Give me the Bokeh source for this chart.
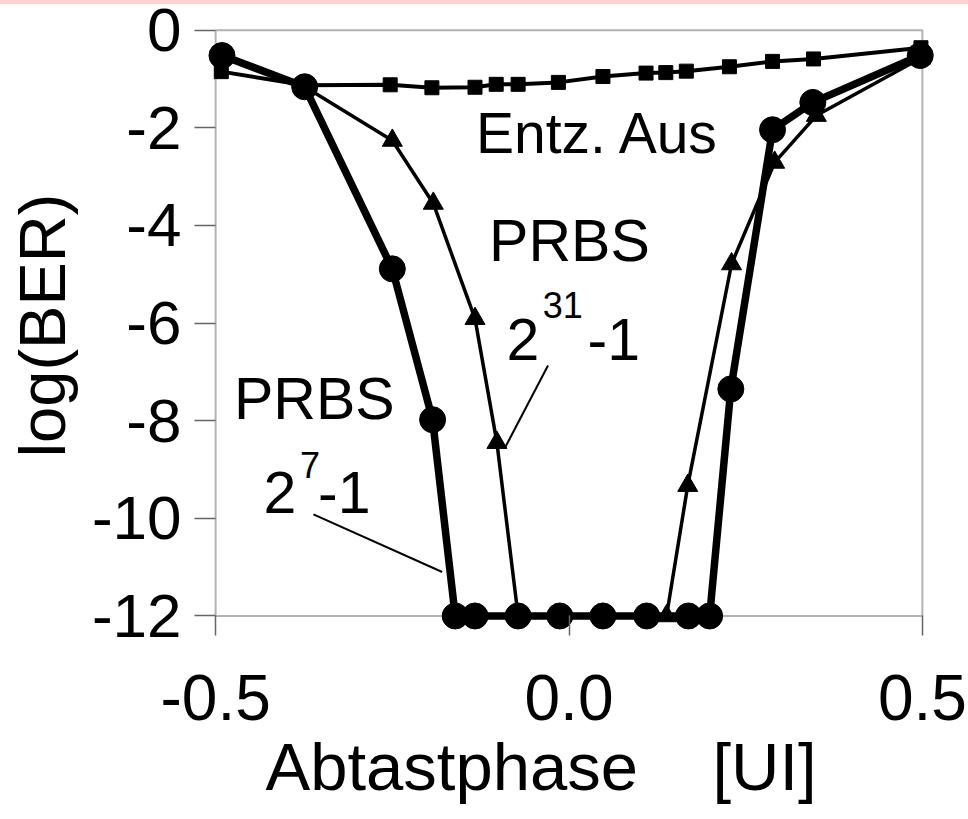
from bokeh.embed import file_html
from bokeh.layouts import column
from bokeh.models import BoxAnnotation, Div, FixedTicker, Label, LinearAxis, Range1d
from bokeh.plotting import figure
from bokeh.resources import INLINE

# Sampling phase [UI] and log10(BER) for the three measurements
phase_off = [-0.492, -0.373, -0.253, -0.194, -0.133, -0.103, -0.072, -0.015,
             0.048, 0.109, 0.137, 0.166, 0.227, 0.288, 0.346, 0.498]
ber_off = [-0.85, -1.13, -1.12, -1.18, -1.17, -1.11, -1.11, -1.07,
           -0.95, -0.88, -0.87, -0.84, -0.75, -0.64, -0.59, -0.36]

phase_p7 = [-0.491, -0.374, -0.250, -0.193, -0.161, -0.133, -0.072, -0.013,
            0.048, 0.110, 0.169, 0.199, 0.229, 0.288, 0.345, 0.497]
ber_p7 = [-0.52, -1.16, -4.89, -7.98, -12.0, -12.0, -12.0, -12.0,
          -12.0, -12.0, -12.0, -12.0, -7.35, -2.04, -1.48, -0.52]

phase_p31 = [-0.492, -0.374, -0.250, -0.192, -0.133, -0.102, -0.072, -0.013,
             0.048, 0.110, 0.138, 0.168, 0.230, 0.291, 0.350, 0.497]
ber_p31 = [-0.55, -1.16, -2.26, -3.55, -5.91, -8.45, -12.0, -12.0,
           -12.0, -12.0, -12.0, -9.33, -4.79, -2.71, -1.75, -0.58]

x_ticks = [-0.5, 0.0, 0.5]
x_tick_labels = ["-0.5", "0.0", "0.5"]
y_ticks = [0, -2, -4, -6, -8, -10, -12]
y_tick_labels = ["0", "-2", "-4", "-6", "-8", "-10", "-12"]

# leader lines from the series captions to their curves
leader_x0 = [-0.0297, -0.3616]
leader_y0 = [-6.87, -9.92]
leader_x1 = [-0.0904, -0.1794]
leader_y1 = [-8.55, -11.10]

FONT = "Liberation Sans"
NB = "\u00a0"

p = figure(width=968, height=815,
           x_range=Range1d(-0.52, 0.52), y_range=Range1d(-12.4, 0.3),
           x_axis_type=None, y_axis_type=None,
           output_backend="svg", toolbar_location=None,
           min_border_left=201, min_border_right=32,
           min_border_top=11, min_border_bottom=184)
p.outline_line_color = None
p.background_fill_color = "white"
p.border_fill_color = "white"

# plot-area box (drawn below the curves)
p.add_layout(BoxAnnotation(left=-0.5, right=0.5, bottom=-12, top=0,
                           fill_alpha=0, line_color="black", line_width=2,
                           level="underlay"))

xaxis = LinearAxis(ticker=FixedTicker(ticks=x_ticks),
                   major_label_overrides=dict(zip(x_ticks, x_tick_labels)),
                   axis_label="Abtastphase" + NB * 4 + "[UI]" + NB * 3)
yaxis = LinearAxis(ticker=FixedTicker(ticks=y_ticks),
                   major_label_overrides=dict(zip(y_ticks, y_tick_labels)),
                   axis_label="log(BER)")
for ax in (xaxis, yaxis):
    ax.axis_line_color = None
    ax.major_tick_line_color = "#666666"
    ax.major_tick_line_width = 1.5
    ax.minor_tick_line_color = None
    ax.major_label_text_font = FONT
    ax.major_label_text_color = "black"
    ax.axis_label_text_font = FONT
    ax.axis_label_text_font_style = "normal"
    ax.axis_label_text_color = "black"

# x axis sits on the lower frame edge; ticks reach up to log(BER) = -12
xaxis.major_tick_out = 0
xaxis.major_tick_in = 20
xaxis.major_label_text_font_size = "64px"
xaxis.major_label_standoff = 39
xaxis.axis_label_text_font_size = "67px"
xaxis.axis_label_standoff = 6

# y axis sits on the left frame edge; ticks span the gap to phase = -0.5
yaxis.major_tick_out = 7
yaxis.major_tick_in = 14
yaxis.major_label_text_font_size = "62px"
yaxis.major_label_standoff = 13
yaxis.axis_label_text_font_size = "65px"
yaxis.axis_label_standoff = 10

p.add_layout(xaxis, "below")
p.add_layout(yaxis, "left")

# curves
p.line(phase_off, ber_off, line_color="black", line_width=4)
p.scatter(phase_off, ber_off, marker="square", size=14, color="black")

p.line(phase_p31, ber_p31, line_color="black", line_width=3.5)
p.scatter(phase_p31, ber_p31, marker="triangle", size=20, color="black")

p.line(phase_p7, ber_p7, line_color="black", line_width=7.5)
p.scatter(phase_p7, ber_p7, marker="circle", size=26, color="black")

p.segment(leader_x0, leader_y0, leader_x1, leader_y1, line_color="black", line_width=2)


def caption(x, y, text, size="59px"):
    p.add_layout(Label(x=x, y=y, text=text, text_font=FONT, text_font_size=size,
                       text_color="black", text_baseline="alphabetic",
                       text_align="left"))


caption(-0.1315, -2.117, "Entz. Aus", size="57px")
caption(-0.1131, -4.313, "PRBS")
caption(-0.0884, -6.341, "2")
caption(-0.037, -5.64, "31", size="36px")
caption(0.0262, -6.341, "-1")
caption(-0.474, -7.563, "PRBS")
caption(-0.4322, -9.474, "2")
caption(-0.3805, -8.90, "7", size="36px")
caption(-0.3551, -9.474, "-1")

strip = Div(text="", width=968, height=4, margin=0,
            styles={"background-color": "#ffd0d0"})

layout = column(strip, p, spacing=0)
open("out.html", "w").write(file_html(layout, INLINE))
